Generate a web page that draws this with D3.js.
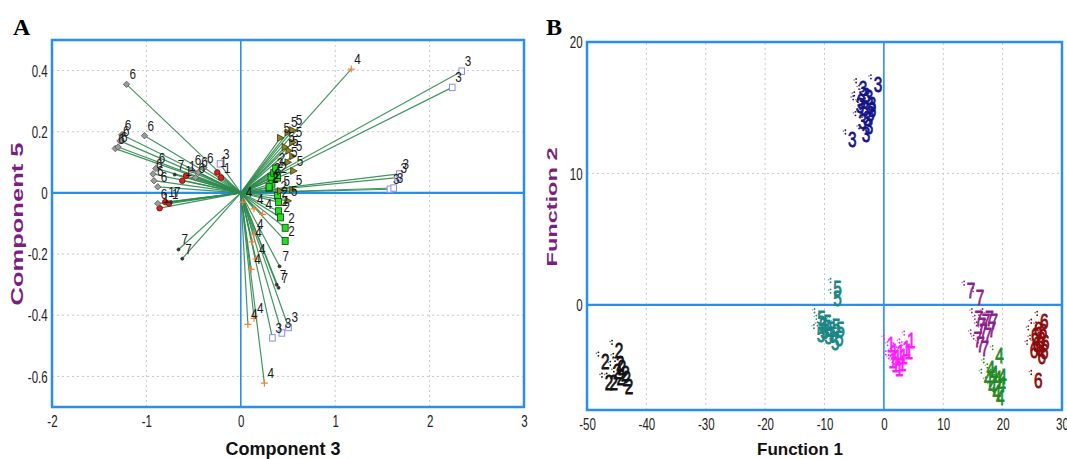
<!DOCTYPE html>
<html><head><meta charset="utf-8">
<script src="https://cdn.jsdelivr.net/npm/d3@7"></script>
<style>
body{margin:0;background:#fff;}
svg{display:block;}
</style></head><body>
<svg id="c" width="1067" height="459"></svg>
<script>
// ---------- Panel A data (Component 3 vs Component 5) ----------
const aG1X = [-0.86,-0.80,-0.76,-0.62,-0.58,-0.25,-0.21];
const aG1Y = [-0.050,-0.030,-0.035,0.040,0.056,0.067,0.050];
const aG2X = [0.30,0.39,0.40,0.40,0.42,0.47,0.47,0.32,0.35,0.37,0.33,0.39,0.30];
const aG2Y = [0.017,-0.010,-0.030,-0.060,-0.080,-0.114,-0.157,0.050,0.066,0.080,0.030,0.050,0.020];
const aG3X = [2.34,2.24,1.58,1.62,1.66,1.68,0.335,0.435,0.506,-0.22];
const aG3Y = [0.398,0.345,0.012,0.016,0.050,0.062,-0.474,-0.458,-0.440,0.095];
const aG4X = [1.17,0.25,0.075,0.14,0.14,0.23,0.14,0.12,0.16,0.11,0.02];
const aG4Y = [0.405,-0.622,-0.430,-0.410,-0.052,-0.070,-0.135,-0.160,-0.216,-0.250,-0.030];
const aG5X = [0.42,0.50,0.55,0.55,0.51,0.55,0.50,0.56,0.42,0.50,0.55,0.47];
const aG5Y = [0.180,0.198,0.205,0.165,0.138,0.120,0.100,0.072,0.006,-0.026,0.010,0.150];
const aG6X = [-1.21,-1.02,-1.33,-1.30,-1.28,-1.26,-0.92,-0.93,-0.90,-0.88,-0.88,-0.45,-0.39,-0.48,-0.52];
const aG6Y = [0.355,0.187,0.145,0.150,0.170,0.190,0.040,0.062,0.080,0.020,-0.035,0.067,0.083,0.050,0.075];
const aG7X = [-0.66,-0.62,-0.70,-0.74,0.41,0.38,0.40];
const aG7Y = [-0.185,-0.215,0.060,-0.030,-0.240,-0.300,-0.310];
const aXTicks = [-2,-1,0,1,2,3];
const aYTicks = [0.4,0.2,0,-0.2,-0.4,-0.6];

// ---------- Panel B data (Function 1 vs Function 2) ----------
const bG1X = [1.2,1.8,2.3,2.8,3.3,2.0,3.8,4.6,4.2,1.5,2.6,3.1];
const bG1Y = [-3.0,-3.5,-4.0,-3.6,-3.9,-4.5,-3.3,-2.7,-3.5,-4.2,-4.8,-4.4];
const bG2X = [-46.9,-46.3,-45.5,-44.6,-44.4,-44.1,-43.5,-43.3,-42.9,-44.3,-44.9];
const bG2Y = [-4.3,-5.9,-5.9,-3.4,-4.4,-4.7,-5.2,-5.6,-6.2,-5.5,-5.0];
const bG3X = [-1.0,-3.5,-3.0,-2.5,-3.8,-2.0,-3.2,-2.3,-2.8,-3.6,-2.5,-3.0,-5.3,-2.0,-4.0];
const bG3Y = [16.8,16.5,16.0,15.8,15.5,15.3,15.0,14.6,14.2,14.0,13.6,13.0,12.6,14.9,15.2];
const bG4X = [19.5,18.0,18.6,19.2,19.8,18.3,19.0,20.0,17.6,19.6];
const bG4Y = [-3.8,-4.8,-5.2,-5.6,-6.0,-6.2,-6.6,-5.4,-5.6,-7.0];
const bG5X = [-7.8,-7.8,-10.5,-10.2,-10.0,-9.5,-9.0,-8.5,-8.0,-7.5,-8.2,-9.3,-10.6,-7.3];
const bG5Y = [1.3,0.5,-1.0,-1.5,-2.0,-1.3,-1.8,-2.2,-1.6,-2.5,-2.8,-2.4,-2.2,-1.8];
const bG6X = [27.0,26.0,26.8,25.5,26.5,27.2,25.8,26.3,27.0,25.3,26.6,26.0];
const bG6Y = [-1.2,-1.8,-2.0,-2.3,-2.6,-2.8,-3.0,-3.3,-3.5,-3.4,-3.9,-5.7];
const bG7X = [14.7,16.2,16.0,16.5,17.2,17.8,18.5,16.8,17.5,18.2,15.8,16.3,17.0];
const bG7Y = [1.1,0.6,-1.0,-1.5,-1.2,-1.0,-1.2,-2.0,-2.3,-1.8,-2.6,-3.0,-3.3];
const bXTicks = [-50,-40,-30,-20,-10,0,10,20,30];
const bYTicks = [0,10,20];

const groupsA = [
  {g:"1", xs:aG1X, ys:aG1Y, m:"circle", fill:"#e0201a", stroke:"#5a1010"},
  {g:"2", xs:aG2X, ys:aG2Y, m:"square", fill:"#1ee01e", stroke:"#1a3a1a"},
  {g:"3", xs:aG3X, ys:aG3Y, m:"osquare", fill:"none", stroke:"#8c8cf0"},
  {g:"4", xs:aG4X, ys:aG4Y, m:"plus", fill:"none", stroke:"#f5843a"},
  {g:"5", xs:aG5X, ys:aG5Y, m:"tri", fill:"#8f8420", stroke:"#3a3410"},
  {g:"6", xs:aG6X, ys:aG6Y, m:"diamond", fill:"#9a9a9a", stroke:"#555"},
  {g:"7", xs:aG7X, ys:aG7Y, m:"dot", fill:"#333", stroke:"#333"}
];
const groupsB = [
  {g:"1", xs:bG1X, ys:bG1Y, c:"#ff1aff"},
  {g:"2", xs:bG2X, ys:bG2Y, c:"#111111"},
  {g:"3", xs:bG3X, ys:bG3Y, c:"#14148a"},
  {g:"4", xs:bG4X, ys:bG4Y, c:"#1f8a1f"},
  {g:"5", xs:bG5X, ys:bG5Y, c:"#1a8585"},
  {g:"6", xs:bG6X, ys:bG6Y, c:"#8a0a0a"},
  {g:"7", xs:bG7X, ys:bG7Y, c:"#8c1f8c"}
];

const svg = d3.select("#c");
const BLUE = "#2a8ef0";
const SANS = "'Liberation Sans',Arial,sans-serif";

function frame(x, y, xt, yt, xgrid, ygrid) {
  const g = svg.append("g");
  const [x0,x1] = x.range(), [y0,y1] = y.range();
  g.selectAll(".gx").data(xgrid).join("line")
    .attr("x1",d=>x(d)).attr("x2",d=>x(d)).attr("y1",y0).attr("y2",y1)
    .attr("stroke","#c9c9c9").attr("stroke-width",1).attr("stroke-dasharray","2,3");
  g.selectAll(".gy").data(ygrid).join("line")
    .attr("y1",d=>y(d)).attr("y2",d=>y(d)).attr("x1",x0).attr("x2",x1)
    .attr("stroke","#c9c9c9").attr("stroke-width",1).attr("stroke-dasharray","2,3");
  const xa = d3.axisBottom(x).tickValues(xt).tickSize(0).tickPadding(0).tickFormat(d=>String(d));
  const ya = d3.axisLeft(y).tickValues(yt).tickSize(0).tickPadding(0).tickFormat(d=>String(d));
  const gx = svg.append("g").attr("transform",`translate(0,${y0})`).call(xa);
  gx.select(".domain").remove();
  gx.selectAll("text").attr("font-family",SANS).attr("font-size",16).attr("fill","#222")
    .attr("dy",null).attr("y",20).attr("transform","scale(0.72,1)");
  const gy = svg.append("g").attr("transform",`translate(${x0},0)`).call(ya);
  gy.select(".domain").remove();
  gy.selectAll("text").attr("font-family",SANS).attr("font-size",16).attr("fill","#222")
    .attr("x",-6).attr("dy","0.35em").attr("transform","scale(0.72,1)");
  return g;
}
function borderAndZero(x, y) {
  const [x0,x1] = x.range(), [y0,y1] = y.range();
  const g = svg.append("g");
  g.append("line").attr("x1",x(0)).attr("x2",x(0)).attr("y1",y0).attr("y2",y1)
    .attr("stroke",BLUE).attr("stroke-width",1.6);
  g.append("line").attr("x1",x0).attr("x2",x1).attr("y1",y(0)).attr("y2",y(0))
    .attr("stroke",BLUE).attr("stroke-width",2.4);
  g.append("rect").attr("x",x0).attr("y",y1).attr("width",x1-x0).attr("height",y0-y1)
    .attr("fill","none").attr("stroke",BLUE).attr("stroke-width",2.5);
}

// ================= Panel A =================
const xA = d3.scaleLinear().domain([-2,3]).range([52,524]);
const yA = d3.scaleLinear().domain([-0.7,0.5]).range([407,40]);
frame(xA, yA, aXTicks, aYTicks, [-1,1,2], [0.4,0.2,-0.2,-0.4,-0.6]);
borderAndZero(xA, yA);

const ptsA = [];
groupsA.forEach(G => G.xs.forEach((v,i) => ptsA.push({g:G.g, x:v, y:G.ys[i], G})));
const gA = svg.append("g");
gA.selectAll("line.v").data(ptsA).join("line")
  .attr("x1",xA(0)).attr("y1",yA(0)).attr("x2",d=>xA(d.x)).attr("y2",d=>yA(d.y))
  .attr("stroke","#2f8a4f").attr("stroke-width",1.2).attr("stroke-opacity",0.9);
ptsA.forEach(d => {
  const px = xA(d.x), py = yA(d.y), G = d.G;
  if (G.m === "circle" || G.m === "dot") {
    gA.append("circle").attr("cx",px).attr("cy",py).attr("r",G.m==="dot"?1.5:2.8)
      .attr("fill",G.fill).attr("stroke",G.stroke).attr("stroke-width",0.8);
  } else if (G.m === "diamond") {
    gA.append("path").attr("d",`M${px},${py-3.2}L${px+3.2},${py}L${px},${py+3.2}L${px-3.2},${py}Z`)
      .attr("fill",G.fill).attr("stroke",G.stroke).attr("stroke-width",0.8);
  } else if (G.m === "square") {
    gA.append("rect").attr("x",px-3).attr("y",py-3.5).attr("width",6).attr("height",7)
      .attr("fill",G.fill).attr("stroke",G.stroke).attr("stroke-width",0.8);
  } else if (G.m === "osquare") {
    gA.append("rect").attr("x",px-2.8).attr("y",py-3.2).attr("width",5.6).attr("height",6.4)
      .attr("fill","#fff").attr("stroke",G.stroke).attr("stroke-width",1);
  } else if (G.m === "plus") {
    gA.append("path").attr("d",`M${px-3.5},${py}H${px+3.5}M${px},${py-3.5}V${py+3.5}`)
      .attr("stroke",G.stroke).attr("stroke-width",1.2);
  } else if (G.m === "tri") {
    gA.append("path").attr("d",`M${px-3},${py-3.5}L${px+3.5},${py}L${px-3},${py+3.5}Z`)
      .attr("fill",G.fill).attr("stroke",G.stroke).attr("stroke-width",0.8);
  }
});
gA.selectAll("text.lab").data(ptsA).join("text")
  .attr("transform",d=>`translate(${xA(d.x)+3},${yA(d.y)-5}) scale(0.78,1)`)
  .attr("font-family",SANS).attr("font-size",15).attr("fill","#1a1a1a")
  .text(d=>d.g);

// ================= Panel B =================
const xB = d3.scaleLinear().domain([-50,30]).range([587,1062]);
const yB = d3.scaleLinear().domain([-8,20]).range([410,42]);
frame(xB, yB, bXTicks, bYTicks, [-40,-30,-20,-10,10,20], [10]);
borderAndZero(xB, yB);

const ptsB = [];
groupsB.forEach(G => G.xs.forEach((v,i) => ptsB.push({g:G.g, x:v, y:G.ys[i], c:G.c})));
const gB = svg.append("g");
ptsB.forEach(d => {
  const px = xB(d.x), py = yB(d.y);
  gB.append("circle").attr("cx",px-7).attr("cy",py-9).attr("r",0.9).attr("fill",d.c);
  gB.append("circle").attr("cx",px-7).attr("cy",py-5.5).attr("r",0.9).attr("fill",d.c);
  gB.append("circle").attr("cx",px-9).attr("cy",py-8).attr("r",0.8).attr("fill",d.c).attr("opacity",0.6);
});
gB.selectAll("text.lab").data(ptsB).join("text")
  .attr("transform",d=>`translate(${xB(d.x)},${yB(d.y)+8}) scale(0.7,1)`)
  .attr("text-anchor","middle")
  .attr("font-family",SANS).attr("font-size",22).attr("fill",d=>d.c)
  .attr("stroke",d=>d.c).attr("stroke-width",0.8)
  .text(d=>d.g);

// ================= Titles =================
svg.append("text").attr("x",13).attr("y",35).attr("font-family","'Liberation Serif','Times New Roman',serif")
  .attr("font-weight","bold").attr("font-size",24).attr("fill","#000").text("A");
svg.append("text").attr("x",546).attr("y",35).attr("font-family","'Liberation Serif','Times New Roman',serif")
  .attr("font-weight","bold").attr("font-size",24).attr("fill","#000").text("B");

svg.append("text").attr("x",283).attr("y",455).attr("text-anchor","middle")
  .attr("font-family",SANS).attr("font-weight","bold")
  .attr("font-size",18).attr("fill","#111").text("Component 3");
svg.append("text").attr("transform","translate(23,224) rotate(-90)").attr("text-anchor","middle")
  .attr("font-family",SANS).attr("font-weight","bold")
  .attr("font-size",17).attr("fill","#7a1f80")
  .attr("textLength",163).attr("lengthAdjust","spacingAndGlyphs").text("Component 5");
svg.append("text").attr("x",800).attr("y",455).attr("text-anchor","middle")
  .attr("font-family",SANS).attr("font-weight","bold")
  .attr("font-size",17).attr("fill","#111").text("Function 1");
svg.append("text").attr("transform","translate(557,207) rotate(-90)").attr("text-anchor","middle")
  .attr("font-family",SANS).attr("font-weight","bold")
  .attr("font-size",15).attr("fill","#7a1f80")
  .attr("textLength",119).attr("lengthAdjust","spacingAndGlyphs").text("Function 2");
</script>
</body></html>
